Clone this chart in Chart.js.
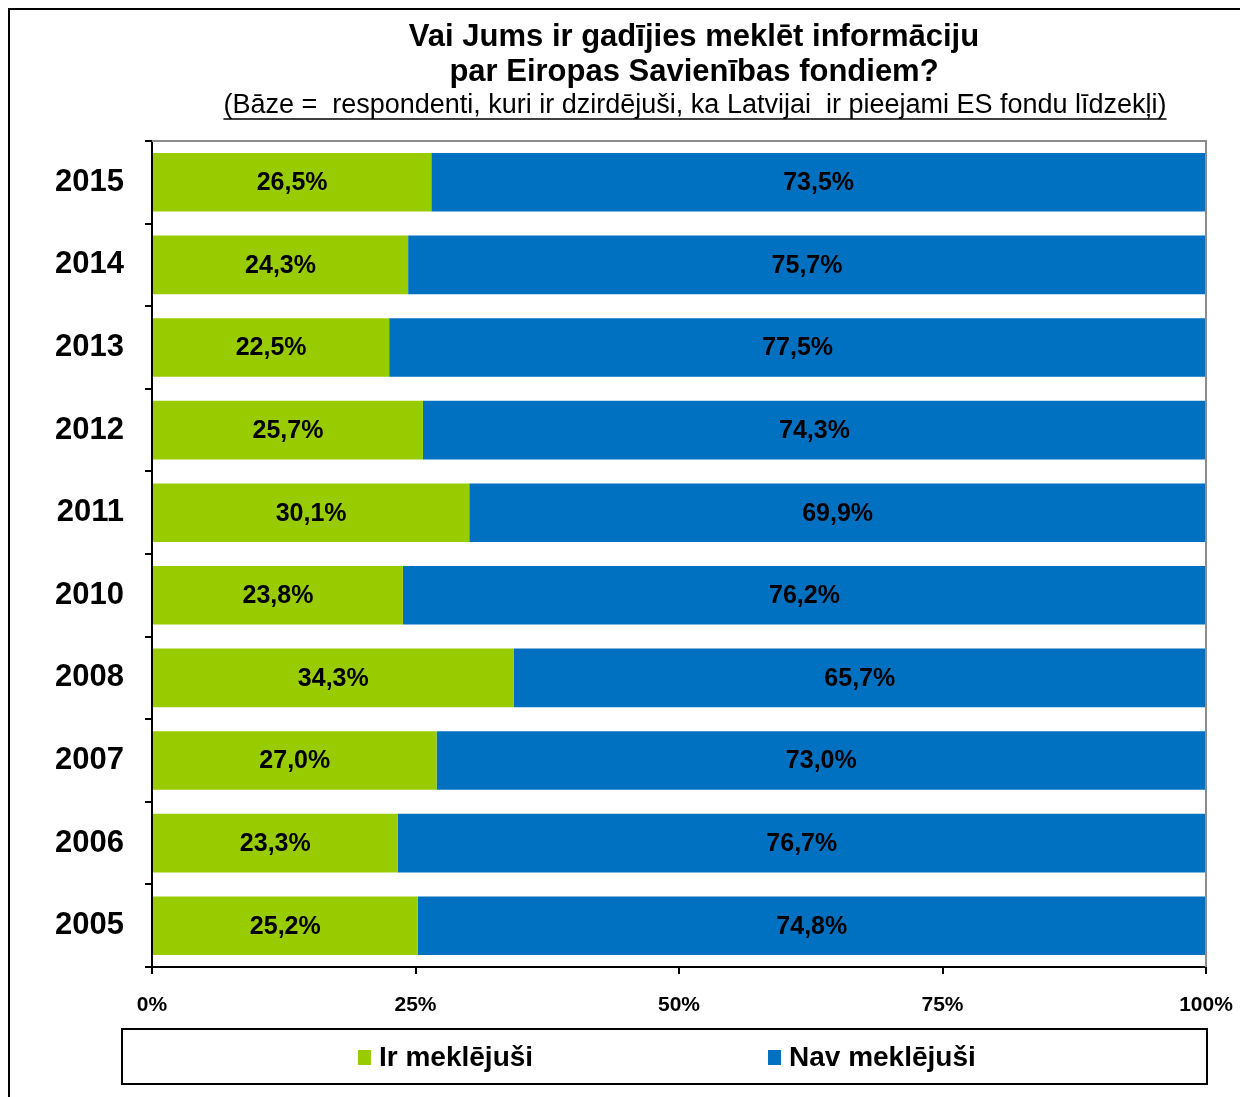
<!DOCTYPE html>
<html>
<head>
<meta charset="utf-8">
<script src="https://cdn.jsdelivr.net/npm/chart.js@4"></script>
<style>
  body { margin: 0; background: #fff; }
  #wrap { width: 1240px; height: 1097px; position: relative; }
</style>
</head>
<body>
<div id="wrap"><canvas id="surveyChart"></canvas></div>
<script>
const years = ["2015", "2014", "2013", "2012", "2011", "2010", "2008", "2007", "2006", "2005"];
const searched = [26.5, 24.3, 22.5, 25.7, 30.1, 23.8, 34.3, 27.0, 23.3, 25.2];
const notSearched = [73.5, 75.7, 77.5, 74.3, 69.9, 76.2, 65.7, 73.0, 76.7, 74.8];
const xTicks = [0, 25, 50, 75, 100];

const titleLines = ["Vai Jums ir gadījies meklēt informāciju", "par Eiropas Savienības fondiem?"];
const subtitle = "(Bāze =  respondenti, kuri ir dzirdējuši, ka Latvijai  ir pieejami ES fondu līdzekļi)";

const FONT = "'Liberation Sans', Arial, sans-serif";

// title, frame, plot border, value labels and legend box
const decorations = {
  id: "decorations",
  afterDraw(chart) {
    const ctx = chart.ctx;
    const area = chart.chartArea;
    ctx.save();

    // outer frame
    ctx.strokeStyle = "#000";
    ctx.lineWidth = 2;
    ctx.strokeRect(9, 9, 1260, 1120);

    // title
    ctx.fillStyle = "#000";
    ctx.textAlign = "center";
    ctx.textBaseline = "middle";
    ctx.font = "bold 31px " + FONT;
    ctx.fillText(titleLines[0], 694, 37);
    ctx.fillText(titleLines[1], 694, 72);
    ctx.font = "27px " + FONT;
    ctx.fillText(subtitle, 695, 106);
    const w = ctx.measureText(subtitle).width;
    ctx.lineWidth = 1.5;
    ctx.beginPath();
    ctx.moveTo(695 - w / 2, 119);
    ctx.lineTo(695 + w / 2, 119);
    ctx.stroke();

    // gray top / right plot border
    ctx.strokeStyle = "#8c8c8c";
    ctx.lineWidth = 2;
    ctx.beginPath();
    ctx.moveTo(area.left, area.top);
    ctx.lineTo(area.right, area.top);
    ctx.lineTo(area.right, area.bottom);
    ctx.stroke();

    // legend box
    ctx.strokeStyle = "#000";
    ctx.lineWidth = 2;
    ctx.strokeRect(122, 1029, 1085, 55);
    const items = chart.data.datasets;
    const pos = [358, 768];
    ctx.font = "bold 28px " + FONT;
    ctx.textAlign = "left";
    items.forEach((ds, i) => {
      ctx.fillStyle = ds.backgroundColor;
      ctx.fillRect(pos[i], 1050, 13, 15);
      ctx.fillStyle = "#000";
      ctx.fillText(ds.label, pos[i] + 21, 1058);
    });
    ctx.restore();
  },
  afterDatasetsDraw(chart) {
    const ctx = chart.ctx;
    ctx.save();
    ctx.fillStyle = "#000";
    ctx.font = "bold 25px " + FONT;
    ctx.textAlign = "center";
    ctx.textBaseline = "middle";
    chart.data.datasets.forEach((ds, i) => {
      chart.getDatasetMeta(i).data.forEach((bar, j) => {
        const p = bar.getCenterPoint();
        ctx.fillText(ds.data[j].toFixed(1).replace(".", ",") + "%", p.x, p.y + 1);
      });
    });
    ctx.restore();
  }
};

const ctx = document.getElementById("surveyChart").getContext("2d");
new Chart(ctx, {
  type: "bar",
  data: {
    labels: years,
    datasets: [
      { label: "Ir meklējuši", data: searched, backgroundColor: "#99cc00" },
      { label: "Nav meklējuši", data: notSearched, backgroundColor: "#0070c0" }
    ]
  },
  options: {
    indexAxis: "y",
    responsive: true,
    maintainAspectRatio: false,
    animation: false,
    categoryPercentage: 1,
    barPercentage: 0.71,
    layout: { padding: { top: 141, right: 34, left: 0, bottom: 0 } },
    plugins: { legend: { display: false }, tooltip: { enabled: false } },
    scales: {
      x: {
        stacked: true,
        min: 0,
        max: 100,
        afterFit: (s) => { s.height = 130; s.paddingLeft = 0; s.paddingRight = 0; },
        afterBuildTicks: (s) => { s.ticks = xTicks.map((v) => ({ value: v })); },
        border: { color: "#000", width: 2 },
        grid: { drawOnChartArea: false, drawTicks: true, tickLength: 7, color: "#000", lineWidth: 2 },
        ticks: {
          color: "#000",
          padding: 19,
          maxRotation: 0,
          font: { family: FONT, size: 21, weight: "bold" },
          callback: (v) => v + "%"
        }
      },
      y: {
        stacked: true,
        afterFit: (s) => { s.width = 152; },
        border: { color: "#000", width: 2 },
        grid: { drawOnChartArea: false, drawTicks: true, tickLength: 7, color: "#000", lineWidth: 2 },
        ticks: {
          color: "#000",
          padding: 21,
          font: { family: FONT, size: 31, weight: "bold" }
        }
      }
    }
  },
  plugins: [decorations]
});
</script>
</body>
</html>
